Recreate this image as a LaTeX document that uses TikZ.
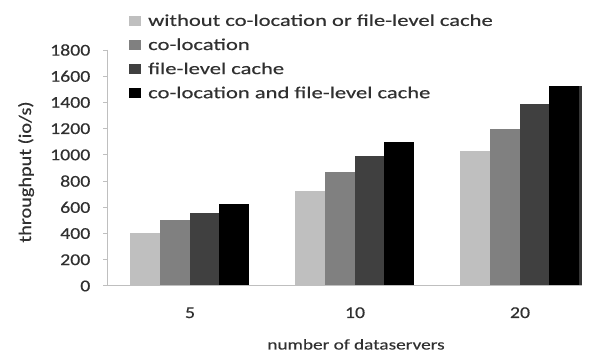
\documentclass[tikz,border=0pt]{standalone}
\usepackage{fontspec}
\setmainfont{Carlito}
\newfontfamily\legfont{Carlito}[FakeStretch=1.36,FakeBold=0.4]
\newfontfamily\tickfont{Carlito}[FakeStretch=1.2,FakeBold=0.4]
\newfontfamily\xtitlefont{Carlito}[FakeStretch=1.3,FakeBold=0.3]
\newfontfamily\ytitlefont{Carlito}[FakeStretch=1.15,FakeBold=0.4]

\definecolor{c1}{HTML}{BFBFBF}
\definecolor{c2}{HTML}{808080}
\definecolor{c3}{HTML}{404040}
\definecolor{c4}{HTML}{000000}
\definecolor{edgebar}{HTML}{363636}
\definecolor{axiscol}{HTML}{BFBFBF}
\definecolor{txt}{HTML}{303030}

\begin{document}
\begin{tikzpicture}[x=1pt,y=-1pt,
  axisline/.style={draw=axiscol,line width=1pt},
  ticklab/.style={inner sep=0pt,text=txt,font=\tickfont\fontsize{16.5}{19}\selectfont},
  leglab/.style={inner sep=0pt,text=txt,font=\legfont\fontsize{16.6}{19}\selectfont},
  xtitle/.style={inner sep=0pt,text=txt,font=\xtitlefont\fontsize{14.8}{17}\selectfont},
  ytitle/.style={inner sep=0pt,text=txt,font=\ytitlefont\fontsize{17.6}{20}\selectfont}]
\useasboundingbox (0,0) rectangle (592,352);
\fill[white] (0,0) rectangle (592,352);
% value scale: 0 at y=286, 1800 at y=50
\def\vs{0.131111}

% bars, four series per category
\foreach \va/\vb/\vc/\vd [count=\i from 0] in {406/503/559/625,727/872/994/1096,1030/1198/1391/1528}{
  \pgfmathsetmacro\xs{130+165*\i}
  \fill[c1] (\xs,286) rectangle ({\xs+29.75},{286-\va*\vs});
  \fill[c2] ({\xs+29.75},286) rectangle ({\xs+59.5},{286-\vb*\vs});
  \fill[c3] ({\xs+59.5},286) rectangle ({\xs+89.25},{286-\vc*\vs});
  \fill[c4] ({\xs+89.25},286) rectangle ({\xs+119},{286-\vd*\vs});
}
\fill[edgebar] (578.5,286) rectangle (582,{286-1528*\vs});

% axes
\draw[axisline] (107,50) -- (107,286) -- (582,286);
\foreach \v in {0,200,...,1800}{
  \draw[axisline] (103,{286-\v*\vs}) -- (107,{286-\v*\vs});
  \node[ticklab,anchor=east] (t\v) at (90.5,{286-\v*\vs}) {\v};
}

% category labels
\node[ticklab,anchor=base] (k5) at (190,318) {5};
\node[ticklab,anchor=base] (k10) at (355,318) {10};
\node[ticklab,anchor=base] (k20) at (520,318) {20};

% axis titles
\node[xtitle,anchor=base] (xt) at (356,349.5) {number of dataservers};
\node[ytitle,rotate=90,anchor=base] (yt) at (31,172) {throughput (io/s)};

% legend
\foreach \col/\lab [count=\i from 0] in {c1/without co-location or file-level cache,c2/co-location,c3/file-level cache,c4/co-location and file-level cache}{
  \fill[\col] (128.5,{16+24.1*\i}) rectangle (140.5,{25.7+24.1*\i});
  \node[leglab,anchor=base west] (l\i) at (148,{25.9+24.1*\i}) {\lab};
}
\end{tikzpicture}
\end{document}
